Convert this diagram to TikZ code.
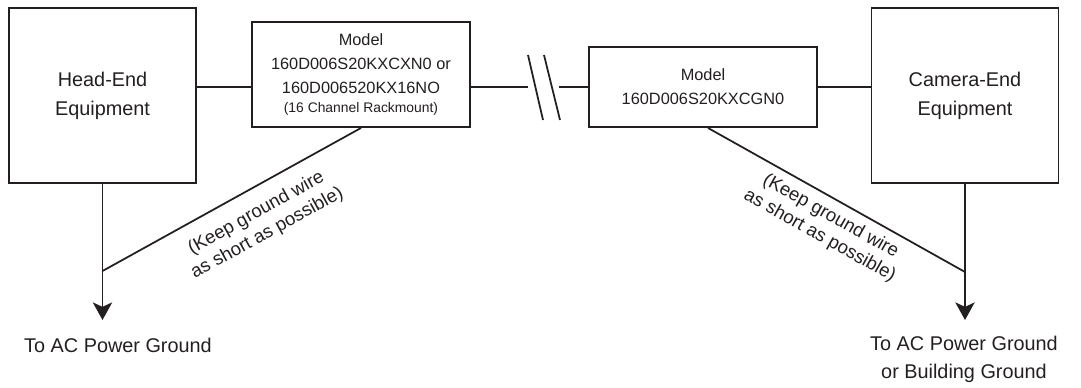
\documentclass[tikz,border=0pt]{standalone}
\usepackage{fontspec}
\setmainfont{Liberation Sans}
\usetikzlibrary{arrows.meta}
\usetikzlibrary{calc}
\definecolor{inkgray}{HTML}{231F20}
\tikzset{
	% Boxes for the two ends and for the two converter models
	equip node/.style={draw=inkgray,line width=1.1pt,minimum width=3.74cm,minimum height=3.5cm,align=center,font=\fontsize{11.3}{16.5}\selectfont},
	model node/.style={draw=inkgray,line width=1.1pt,align=center,inner sep=0pt,font=\fontsize{9.3}{13.7}\selectfont},
	% Wires, ground arrows and their texts
	wire/.style={draw=inkgray,line width=1pt},
	gnd arrow/.style={draw=inkgray,line width=1pt,-{Stealth[length=10pt,width=11pt,inset=2.5pt]}},
	wire note/.style={text=inkgray,align=center,font=\fontsize{10.6}{12.8}\selectfont},
	ground label/.style={text=inkgray,align=center,font=\fontsize{11.3}{16}\selectfont}
}

\begin{document}
\begin{tikzpicture}[x=0.02cm,y=0.02cm,text=inkgray]
			\useasboundingbox (0,0) rectangle (1081,387);
			
			% Equipment at the two ends and the two models
			\node(head)[equip node] at (102.5,291.5) {Head-End\\Equipment};
			\node(lmodel)[model node,minimum width=4.36cm,minimum height=2.1cm] at (361,312.5)
				{Model\\160D006S20KXCXN0 or\\160D006520KX16NO\\[-2.5pt]{\fontsize{7.9}{9.5}\selectfont(16 Channel Rackmount)}};
			\node(rmodel)[model node,minimum width=4.56cm,minimum height=1.6cm] at (703,300)
				{Model\\160D006S20KXCGN0};
			\node(cam)[equip node] at (965,291.5) {Camera-End\\Equipment};
			
			% Signal run, with a break in the middle
			\coordinate(brk l) at (528,300);
			\coordinate(brk r) at (559,300);
			\draw[wire] (head.east |- brk l) -- (lmodel.west |- brk l);
			\draw[wire] (lmodel.east |- brk l) -- (brk l);
			\draw[wire] (brk r) -- (rmodel.west);
			\draw[wire] (rmodel.east) -- (cam.west |- rmodel.east);
			\draw[wire] (528,332) -- (543,267);
			\draw[wire] (544,332) -- (560,267);
			
			% Ground wires
			\coordinate(j1) at (head.south |- 0,116);
			\coordinate(j2) at (cam.south |- 0,115);
			\coordinate(l tip) at (head.south |- 0,67);
			\coordinate(r tip) at (cam.south |- 0,67);
			\draw[gnd arrow] (head.south) -- (l tip);
			\draw[gnd arrow] (cam.south) -- (r tip);
			\draw[wire] (j1) -- node[wire note,pos=0.55,sloped,below=5pt]{(Keep ground wire\\as short as possible)} (lmodel.south);
			\draw[wire] ($(rmodel.south)+(5,0)$) -- node[wire note,pos=0.51,sloped,below=1pt]{(Keep ground wire\\as short as possible)} (j2);
			
			\node(l gnd)[ground label] at (118,42) {To AC Power Ground};
			\node(r gnd)[ground label] at (964,28) {To AC Power Ground\\or Building Ground};
		\end{tikzpicture}
\end{document}
